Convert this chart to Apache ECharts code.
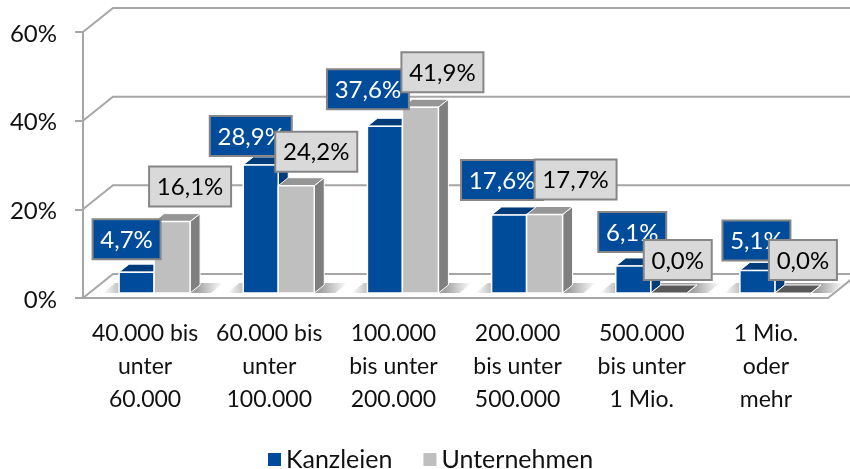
<!DOCTYPE html>
<html>
<head>
<meta charset="utf-8">
<style>
  html, body { margin: 0; padding: 0; background: #fff; }
  #main { width: 850px; height: 469px; }
</style>
<script src="https://cdn.jsdelivr.net/npm/echarts@6/dist/echarts.min.js"></script>
</head>
<body>
<div id="main"></div>
<script>
var categories = ['40.000 bis\nunter\n60.000', '60.000 bis\nunter\n100.000', '100.000\nbis unter\n200.000',
    '200.000\nbis unter\n500.000', '500.000\nbis unter\n1 Mio.', '1 Mio.\noder\nmehr'];
var kanzleien = [4.7, 28.9, 37.6, 17.6, 6.1, 5.1];
var unternehmen = [16.1, 24.2, 41.9, 17.7, 0.0, 0.0];
var wallTicks = [0, 20, 40, 60];

// where each value box sits relative to the top of its bar
var boxShiftK = [[-10, -33], [-10, -29], [-17, -37], [-7, -35], [-1, -34], [-1, -30]];
var boxShiftU = [[18, -35], [20, -34], [22, -35], [31, -35], [9, -33], [10, -33]];

var FONT = 'Lato';
var LINE = '#a6a6a6';
var DEPTH_X = 10, DEPTH_Y = 8;   // bar depth
var WALL_X = 30, WALL_Y = 24;    // back wall offset
var BASE_SHIFT = 5;              // bars stand a little behind the front edge

function poly(points, style) {
    return { type: 'polygon', shape: { points: points }, style: style };
}

function wallItem(params, api) {
    var p = api.coord([0, api.value(0)]);
    var left = params.coordSys.x;
    var right = left + params.coordSys.width;
    var y = p[1];
    var children = [{
        type: 'polyline',
        shape: { points: [[left, y], [left + WALL_X, y - WALL_Y], [right + WALL_X, y - WALL_Y]] },
        style: { fill: null, stroke: LINE, lineWidth: 2 }
    }];
    if (api.value(0) === 0) {
        children.push({
            type: 'line',
            shape: { x1: right, y1: y, x2: right + WALL_X, y2: y - WALL_Y },
            style: { stroke: LINE, lineWidth: 2 }
        });
    }
    return { type: 'group', children: children };
}

function shadowItem(params, api) {
    var c = api.coord([api.value(0), 0]);
    var x0 = c[0] - 42, x1 = c[0] + 78;
    var y0 = c[1] - BASE_SHIFT, y1 = y0 - 10;
    return poly([[x0, y0], [x1 - 12, y0], [x1, y1], [x0 + 12, y1]], {
        fill: new echarts.graphic.LinearGradient(0, 0, 1, 0, [
            { offset: 0, color: 'rgba(150,150,150,0)' },
            { offset: 0.2, color: 'rgba(150,150,150,0.9)' },
            { offset: 0.78, color: 'rgba(150,150,150,0.9)' },
            { offset: 1, color: 'rgba(150,150,150,0)' }
        ])
    });
}

function barItem(offset, width, colors) {
    return function (params, api) {
        var top = api.coord([api.value(0), api.value(1)]);
        var base = api.coord([api.value(0), 0]);
        var x0 = top[0] + offset, x1 = x0 + width;
        var yt = top[1] - BASE_SHIFT, yb = base[1] - BASE_SHIFT;
        var children = [];
        children.push(poly([[x1, yb], [x1 + DEPTH_X, yb - DEPTH_Y], [x1 + DEPTH_X, yt - DEPTH_Y], [x1, yt]],
            { fill: colors.side, stroke: '#fff', lineWidth: 1 }));
        children.push(poly([[x0, yt], [x0 + DEPTH_X, yt - DEPTH_Y], [x1 + DEPTH_X, yt - DEPTH_Y], [x1, yt]],
            { fill: api.value(1) === 0 ? colors.empty : colors.top, stroke: '#fff', lineWidth: 1 }));
        if (yb - yt > 0) {
            children.push({
                type: 'rect',
                shape: { x: x0, y: yt, width: width, height: yb - yt },
                style: { fill: colors.front, stroke: '#fff', lineWidth: 1.5 }
            });
        }
        return { type: 'group', children: children };
    };
}

function boxItem(offset, width, shifts, fill, textColor) {
    return function (params, api) {
        var i = api.value(0), v = api.value(1);
        var top = api.coord([i, v]);
        var cx = top[0] + offset + width / 2 + shifts[i][0];
        var cy = top[1] - BASE_SHIFT + shifts[i][1];
        var text = v.toFixed(1).replace('.', ',') + '%';
        var w = text.length > 4 ? 82 : 68, h = 40;
        return {
            type: 'group',
            children: [{
                type: 'rect',
                shape: { x: cx - w / 2, y: cy - h / 2, width: w, height: h },
                style: { fill: fill, stroke: '#868686', lineWidth: 2 }
            }, {
                type: 'text',
                style: {
                    x: cx, y: cy + 1, text: text, fill: textColor,
                    font: '24px ' + FONT, align: 'center', verticalAlign: 'middle'
                }
            }]
        };
    };
}

function pairs(values) {
    return values.map(function (v, i) { return [i, v]; });
}

var blue = { front: '#004b9a', top: '#003b7a', side: '#003b7a', empty: '#003b7a' };
var grey = { front: '#bfbfbf', top: '#969696', side: '#7f7f7f', empty: '#595959' };

var chart = echarts.init(document.getElementById('main'), null, { renderer: 'canvas' });
chart.setOption({
    animation: false,
    backgroundColor: '#fff',
    grid: { left: 83, right: 22, top: 32, height: 266 },
    legend: {
        data: ['Kanzleien', 'Unternehmen'],
        left: 263, top: 442,
        icon: 'rect', itemWidth: 13, itemHeight: 13, itemGap: 31,
        textStyle: { fontFamily: FONT, fontSize: 25, color: '#111' }
    },
    xAxis: {
        type: 'category',
        data: categories,
        axisLine: { lineStyle: { color: LINE, width: 2 } },
        axisTick: { length: 9, lineStyle: { color: LINE, width: 2 }, alignWithLabel: false },
        axisLabel: { fontFamily: FONT, fontSize: 23, color: '#111', lineHeight: 33, margin: 19, interval: 0 }
    },
    yAxis: {
        type: 'value', min: 0, max: 60, interval: 20,
        axisLine: { show: true, lineStyle: { color: LINE, width: 2 } },
        axisTick: { show: true, length: 8, lineStyle: { color: LINE, width: 2 } },
        splitLine: { show: false },
        axisLabel: {
            margin: 26,
            formatter: '{t|{value}%}',
            rich: { t: { fontFamily: FONT, fontSize: 24, color: '#111', padding: [4, 0, 0, 0] } }
        }
    },
    series: [
        { type: 'custom', name: 'wall', silent: true, clip: false, z: 1, data: wallTicks.map(function (t) { return [t]; }),
          encode: { y: 0 }, renderItem: wallItem },
        { type: 'custom', name: 'shadow', silent: true, clip: false, z: 2, data: pairs(kanzleien), renderItem: shadowItem },
        { type: 'custom', name: 'Kanzleien', clip: false, z: 3, data: pairs(kanzleien), itemStyle: { color: blue.front },
          renderItem: barItem(-26, 35, blue) },
        { type: 'custom', name: 'Unternehmen', clip: false, z: 4, data: pairs(unternehmen), itemStyle: { color: grey.front },
          renderItem: barItem(9, 36, grey) },
        { type: 'custom', name: 'boxK', silent: true, clip: false, z: 5, data: pairs(kanzleien),
          renderItem: boxItem(-26, 35, boxShiftK, blue.front, '#fff') },
        { type: 'custom', name: 'boxU', silent: true, clip: false, z: 6, data: pairs(unternehmen),
          renderItem: boxItem(9, 36, boxShiftU, '#d9d9d9', '#000') }
    ]
});
</script>
</body>
</html>
